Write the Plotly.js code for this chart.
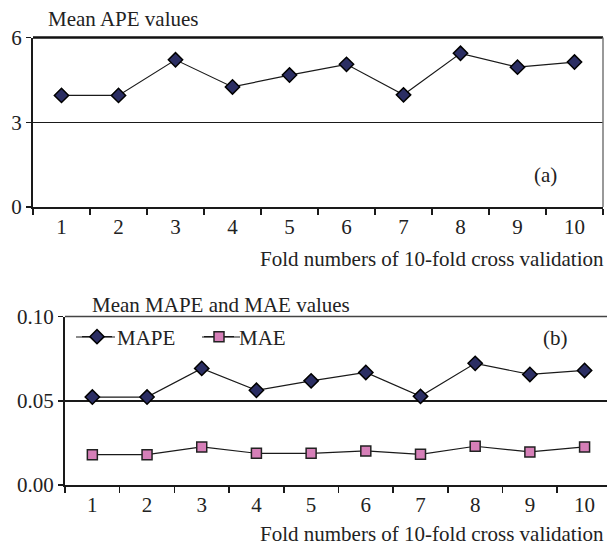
<!DOCTYPE html>
<html>
<head>
<meta charset="utf-8">
<script src="https://cdn.plot.ly/plotly-3.0.1.min.js"></script>
<style>html,body{margin:0;padding:0;background:#fff}#chart{width:607px;height:547px}</style>
</head>
<body>
<div id="chart"></div>
<script>
// ---- data ----
const folds = ['1','2','3','4','5','6','7','8','9','10'];
const apeValues  = [3.95, 3.95, 5.21, 4.25, 4.67, 5.05, 3.97, 5.44, 4.95, 5.13];
const mapeValues = [0.0522, 0.0522, 0.0692, 0.0562, 0.0618, 0.0668, 0.0526, 0.0722, 0.0656, 0.0680];
const maeValues  = [0.0180, 0.0180, 0.0226, 0.0188, 0.0188, 0.0202, 0.0182, 0.0230, 0.0196, 0.0226];
const apeTicks = [0, 3, 6];
const errTicks = [0, 0.05, 0.10];

const W = 607, H = 547;
const px = v => v / W;
const py = v => 1 - v / H;
const FONT = 'Liberation Serif, Times New Roman, serif';
const fs = 21;
const navy = '#2b2e63', pink = '#d67fb8', ink = '#1a1a1a';

const traces = [
  {x: folds, y: apeValues, xaxis: 'x', yaxis: 'y', type: 'scatter', mode: 'lines+markers',
   name: 'APE', showlegend: false,
   line: {color: ink, width: 1.2},
   marker: {symbol: 'diamond', size: 11, color: navy, line: {color: '#000', width: 1.5}}},
  {x: folds, y: mapeValues, xaxis: 'x2', yaxis: 'y2', type: 'scatter', mode: 'lines+markers',
   name: 'MAPE',
   line: {color: ink, width: 1.2},
   marker: {symbol: 'diamond', size: 11, color: navy, line: {color: '#000', width: 1.5}}},
  {x: folds, y: maeValues, xaxis: 'x2', yaxis: 'y2', type: 'scatter', mode: 'lines+markers',
   name: 'MAE',
   line: {color: ink, width: 1.2},
   marker: {symbol: 'square', size: 10, color: pink, line: {color: '#222', width: 1.5}}}
];

const xcommon = {type: 'category', showline: true, linecolor: ink, linewidth: 2,
  ticks: 'outside', tickson: 'boundaries', ticklen: 6, tickcolor: ink, tickwidth: 1.5,
  showgrid: false, zeroline: false, fixedrange: true,
  tickfont: {family: FONT, size: fs, color: '#222'}};
const ycommon = {showline: true, linecolor: ink, linewidth: 2, ticks: 'outside', ticklen: 5,
  tickcolor: ink, tickwidth: 1.5, showgrid: true, gridcolor: ink, gridwidth: 1.5,
  zeroline: false, fixedrange: true, tickfont: {family: FONT, size: fs, color: '#222'}};

const legY = 337;
const layout = {
  width: W, height: H,
  margin: {l: 0, r: 0, t: 0, b: 0},
  paper_bgcolor: '#fff', plot_bgcolor: '#fff',
  font: {family: FONT, size: fs, color: '#222'},
  xaxis: Object.assign({}, xcommon, {domain: [px(33), px(603)], range: [-0.5, 9.5], anchor: 'y'}),
  yaxis: Object.assign({}, ycommon, {domain: [py(207), py(37.5)], range: [0, 6], tickvals: apeTicks, anchor: 'x'}),
  xaxis2: Object.assign({}, xcommon, {domain: [px(65), 1], range: [-0.5, 9.41], anchor: 'y2'}),
  yaxis2: Object.assign({}, ycommon, {domain: [py(485), py(316.5)], range: [0, 0.10], tickvals: errTicks, tickformat: '.2f', anchor: 'x2'}),
  showlegend: true,
  legend: {orientation: 'h', x: px(77), y: py(legY), xanchor: 'left', yanchor: 'middle',
    bgcolor: 'rgba(0,0,0,0)', font: {family: FONT, size: fs, color: '#222'}, entrywidth: 77, entrywidthmode: 'pixels'},
  shapes: [
    {type: 'line', xref: 'x domain', yref: 'y domain', x0: 0, x1: 1, y0: 1, y1: 1, line: {color: '#111', width: 2.5}},
    {type: 'line', xref: 'x domain', yref: 'y domain', x0: 1, x1: 1, y0: 0, y1: 1, line: {color: '#777', width: 1.5}},
    {type: 'line', xref: 'x2 domain', yref: 'y2 domain', x0: 0, x1: 1, y0: 1, y1: 1, line: {color: '#444', width: 1.5}},
    {type: 'line', xref: 'paper', yref: 'paper', x0: px(76), x1: px(115), y0: py(legY), y1: py(legY), line: {color: ink, width: 1.2}},
    {type: 'line', xref: 'paper', yref: 'paper', x0: px(202), x1: px(240), y0: py(legY), y1: py(legY), line: {color: ink, width: 1.2}}
  ],
  annotations: [
    {text: 'Mean APE values', xref: 'paper', yref: 'paper', x: px(46), y: py(19), xanchor: 'left', yanchor: 'middle', showarrow: false},
    {text: 'Mean MAPE and MAE values', xref: 'paper', yref: 'paper', x: px(90), y: py(305), xanchor: 'left', yanchor: 'middle', showarrow: false},
    {text: '(a)', xref: 'paper', yref: 'paper', x: px(545), y: py(175), xanchor: 'center', yanchor: 'middle', showarrow: false},
    {text: '(b)', xref: 'paper', yref: 'paper', x: px(555), y: py(338), xanchor: 'center', yanchor: 'middle', showarrow: false},
    {text: 'Fold numbers of 10-fold cross validation', xref: 'paper', yref: 'paper', x: px(606), y: py(259), xanchor: 'right', yanchor: 'middle', showarrow: false},
    {text: 'Fold numbers of 10-fold cross validation', xref: 'paper', yref: 'paper', x: px(606), y: py(534), xanchor: 'right', yanchor: 'middle', showarrow: false}
  ]
};

Plotly.newPlot('chart', traces, layout, {staticPlot: true, displayModeBar: false});
</script>
</body>
</html>
